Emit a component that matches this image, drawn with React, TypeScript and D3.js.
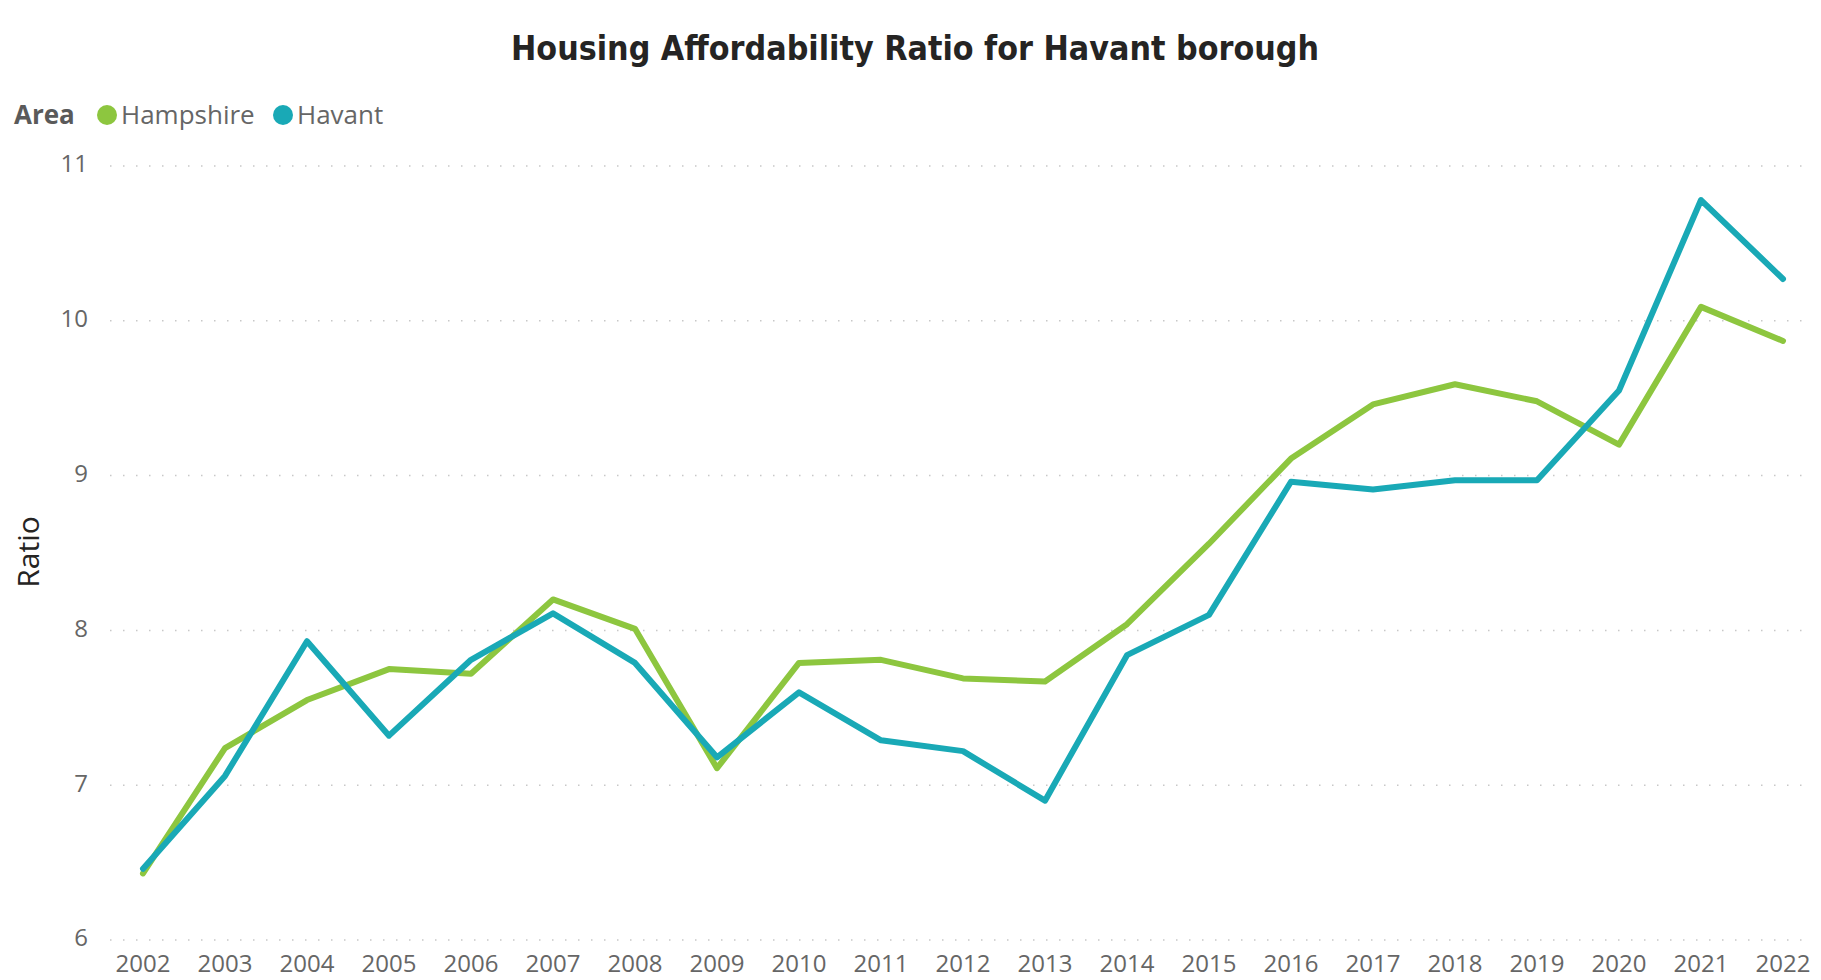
import React from "react";
import * as d3 from "d3";

const years = [
  "2002", "2003", "2004", "2005", "2006", "2007", "2008", "2009", "2010", "2011", "2012",
  "2013", "2014", "2015", "2016", "2017", "2018", "2019", "2020", "2021", "2022",
];
const hampshire = [
  6.43, 7.24, 7.55, 7.75, 7.72, 8.2, 8.01, 7.11, 7.79, 7.81, 7.69,
  7.67, 8.04, 8.56, 9.11, 9.46, 9.59, 9.48, 9.2, 10.09, 9.87,
];
const havant = [
  6.46, 7.06, 7.93, 7.32, 7.81, 8.11, 7.79, 7.18, 7.6, 7.29, 7.22,
  6.9, 7.84, 8.1, 8.96, 8.91, 8.97, 8.97, 9.55, 10.78, 10.27,
];
const yTicks = [6, 7, 8, 9, 10, 11];
const seriesNames = ["Hampshire", "Havant"];
const seriesColors = ["#8DC63F", "#19A9B6"];

const W = 1821;
const H = 980;
const font = "'Open Sans', 'Segoe UI', sans-serif";

export default function App() {
  // scales
  const x = d3.scalePoint<string>().domain(years).range([143, 1783]);
  const y = d3.scaleLinear().domain([6, 11]).range([940, 166]);

  const line = d3
    .line<number>()
    .x((_, i) => x(years[i]) as number)
    .y((d) => y(d));

  const series = [hampshire, havant];

  return (
    <svg
      width={W}
      height={H}
      style={{ position: "absolute", left: 0, top: 0, background: "#fff" }}
    >
      {/* title */}
      <text
        x={915}
        y={50}
        textAnchor="middle"
        dominantBaseline="middle"
        fontFamily="'DejaVu Sans Condensed', 'DejaVu Sans', sans-serif"
        fontWeight="bold"
        fontSize={34}
        fill="#252423"
        textLength={808}
        lengthAdjust="spacingAndGlyphs"
      >
        Housing Affordability Ratio for Havant borough
      </text>

      {/* legend */}
      <g fontFamily={font} fontSize={26}>
        <text x={14} y={117} dominantBaseline="middle" fontWeight="bold" fill="#5a5a5a">
          Area
        </text>
        {seriesNames.map((name, i) => {
          const cx = i === 0 ? 107 : 283;
          return (
            <g key={name}>
              <circle cx={cx} cy={115} r={10} fill={seriesColors[i]} />
              <text x={cx + 14} y={117} dominantBaseline="middle" fill="#666">
                {name}
              </text>
            </g>
          );
        })}
      </g>

      {/* gridlines + y ticks */}
      <g>
        {yTicks.map((t) => (
          <g key={t}>
            <line
              x1={110}
              x2={1807}
              y1={y(t)}
              y2={y(t)}
              stroke="#c8c8c8"
              strokeWidth={1.5}
              strokeDasharray="1.5,11.5"
            />
            <text
              x={88}
              y={y(t)}
              textAnchor="end"
              dominantBaseline="middle"
              fontFamily={font}
              fontSize={24}
              fill="#666"
            >
              {t}
            </text>
          </g>
        ))}
      </g>

      {/* x ticks */}
      <g fontFamily={font} fontSize={24} fill="#666">
        {years.map((yr) => (
          <text key={yr} x={x(yr)} y={966} textAnchor="middle" dominantBaseline="middle">
            {yr}
          </text>
        ))}
      </g>

      {/* axis title */}
      <text
        transform="translate(31,552) rotate(-90)"
        textAnchor="middle"
        dominantBaseline="middle"
        fontFamily={font}
        fontSize={30}
        fill="#252423"
      >
        Ratio
      </text>

      {/* lines */}
      {series.map((s, i) => (
        <path
          key={seriesNames[i]}
          d={line(s) || ""}
          fill="none"
          stroke={seriesColors[i]}
          strokeWidth={6}
          strokeLinejoin="round"
          strokeLinecap="round"
        />
      ))}
    </svg>
  );
}
